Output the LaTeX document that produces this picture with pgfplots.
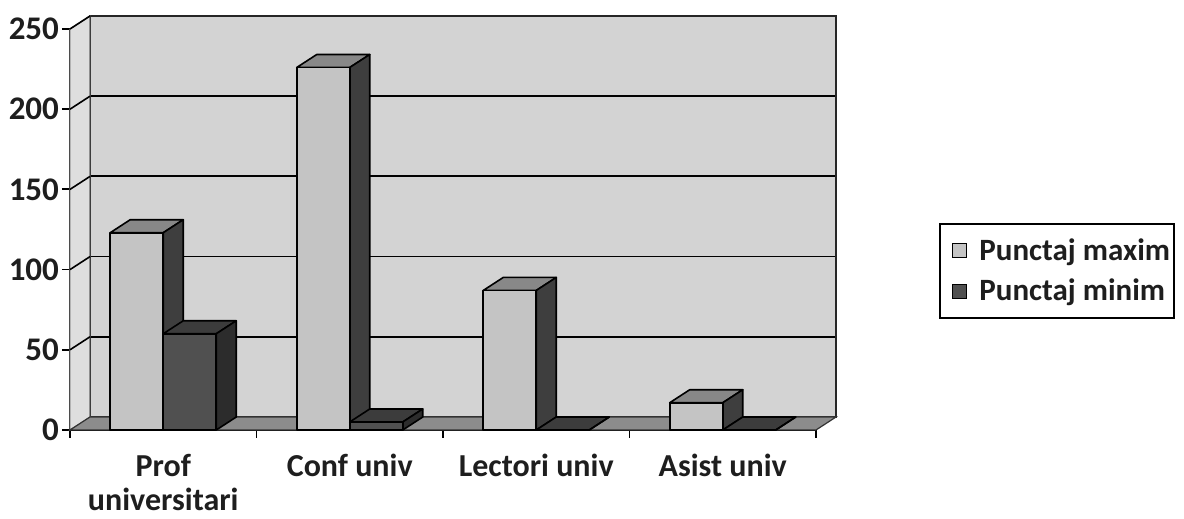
\documentclass[border=0pt]{standalone}
\usepackage{fontspec}
\setmainfont{Carlito}
\usepackage{pgfplots}
\usepackage{pgfplotstable}
\pgfplotsset{compat=1.18}

\definecolor{wallc}{HTML}{D3D3D3}
\definecolor{sidewall}{HTML}{DEDEDE}
\definecolor{floorc}{HTML}{8C8C8C}
\definecolor{maxfront}{HTML}{C4C4C4}
\definecolor{maxtop}{HTML}{888888}
\definecolor{maxside}{HTML}{3E3E3E}
\definecolor{minfront}{HTML}{505050}
\definecolor{mintop}{HTML}{3C3C3C}
\definecolor{minside}{HTML}{2C2C2C}
\definecolor{txt}{HTML}{1E1E1E}

\newcommand\ylfont{\fontsize{16.5}{19}\selectfont\bfseries}
\newcommand\xlfont{\fontsize{16}{17}\selectfont\bfseries}
\newcommand\lgfont{\fontsize{15.5}{18}\selectfont\bfseries}

% data: front positions of the categories 0..3
\pgfplotstableread{
x vmax vmin
0 123 60
1 226 5
2 87 0
3 17 0
}\datatable

% one 3d bar drawn as a mark; \barh is the value of the point
\newdimen\barhd
\newdimen\barhb
\def\barh{0}
\newcommand\barbox[7]{%
  \pgfmathsetlength\barhd{0.802pt*(\barh)}%
  \barhb=6.5pt
  \advance\barhb by -\barhd
  \pgfsetlinewidth{0.8pt}%
  \pgfsetstrokecolor{black}%
  \pgfsetroundjoin
  % top
  \pgfsetfillcolor{#6}%
  \pgfpathmoveto{\pgfqpoint{#1}{0pt}}%
  \pgfpathlineto{\pgfqpoint{#2}{0pt}}%
  \pgfpathlineto{\pgfqpoint{#4}{6.5pt}}%
  \pgfpathlineto{\pgfqpoint{#3}{6.5pt}}%
  \pgfpathclose
  \pgfusepath{fill,stroke}%
  % side
  \pgfsetfillcolor{#7}%
  \pgfpathmoveto{\pgfqpoint{#2}{0pt}}%
  \pgfpathlineto{\pgfqpoint{#4}{6.5pt}}%
  \pgfpathlineto{\pgfqpoint{#4}{\barhb}}%
  \pgfpathlineto{\pgfqpoint{#2}{-\barhd}}%
  \pgfpathclose
  \pgfusepath{fill,stroke}%
  % front
  \pgfsetfillcolor{#5}%
  \pgfpathrectanglecorners{\pgfqpoint{#1}{-\barhd}}{\pgfqpoint{#2}{0pt}}%
  \pgfusepath{fill,stroke}%
}
\pgfdeclareplotmark{barmax}{\barbox{-26.5pt}{0pt}{-16.5pt}{10pt}{maxfront}{maxtop}{maxside}}
\pgfdeclareplotmark{barmin}{\barbox{0pt}{26.5pt}{10pt}{36.5pt}{minfront}{mintop}{minside}}

\pgfplotsset{
  base3d/.style={
    x=93.25pt, y=0.802pt,
    xmin=-0.5, xmax=3.5, ymin=0, ymax=250,
    clip=false, anchor=south west,
  },
  sqlegend/.style={
    legend image code/.code={\path (0pt,0pt); \draw[##1] (6pt,-3.6pt) rectangle (13.2pt,3.6pt);}
  },
}

\begin{document}
\begin{tikzpicture}
% back wall
\begin{axis}[base3d, at={(10pt,6.5pt)},
  axis background/.style={fill=wallc},
  axis line style={draw=black!85, line width=0.8pt},
  ymajorgrids, grid style={black, line width=0.9pt},
  xtick=\empty, ytick={50,100,150,200},
  yticklabels={}, major tick length=0pt,
]
\end{axis}
% front: walls, floor, bars, ticks
\begin{axis}[base3d, at={(0pt,0pt)},
  axis x line*=bottom, axis y line*=left,
  axis line style={black, line width=0.9pt},
  ytick={0,50,...,250},
  yticklabel style={font=\ylfont, color=txt, xshift=2pt},
  xtick={-0.5,0.5,1.5,2.5,3.5},
  xticklabels={,,,,},
  extra x ticks={0,1,2,3},
  extra x tick labels={Prof\\universitari, Conf univ, Lectori univ, Asist univ},
  extra x tick style={major tick length=0pt,
    xticklabel style={align=center, font=\xlfont, color=txt, inner ysep=0pt, yshift=-12pt}},
  tick align=outside, major tick length=4pt,
  tick style={black, line width=0.9pt},
  /pgf/number format/assume math mode=true,
  legend style={at={(1.4812,0.3965)}, anchor=east, draw=black, line width=0.8pt,
    font=\lgfont, text=txt, inner xsep=0pt, inner ysep=5pt, row sep=4pt,
    column sep=4pt},
  legend cell align=left,
]
\fill[sidewall, draw=black!60, line width=0.5pt] (axis cs:-0.5,0) -- (axis cs:-0.5,250)
  -- ([shift={(10pt,6.5pt)}]axis cs:-0.5,250) -- ([shift={(10pt,6.5pt)}]axis cs:-0.5,0) -- cycle;
\pgfplotsinvokeforeach{50,100,150,200,250}{
  \draw[black, line width=0.8pt] (axis cs:-0.5,#1) -- ([shift={(10pt,6.5pt)}]axis cs:-0.5,#1);
}
\filldraw[fill=floorc, draw=black!80, line width=0.6pt] (axis cs:-0.5,0) -- (axis cs:3.5,0)
  -- ([shift={(10pt,6.5pt)}]axis cs:3.5,0) -- ([shift={(10pt,6.5pt)}]axis cs:-0.5,0) -- cycle;

\addplot[scatter, only marks, mark=barmax, forget plot,
  visualization depends on={\thisrow{vmax} \as \barh}]
  table[x=x, y=vmax] {\datatable};
\addplot[scatter, only marks, mark=barmin, forget plot,
  visualization depends on={\thisrow{vmin} \as \barh}]
  table[x=x, y=vmin] {\datatable};

\addlegendimage{sqlegend, fill=maxfront, draw=black, line width=0.6pt}
\addlegendentry{Punctaj maxim}
\addlegendimage{sqlegend, fill=minfront, draw=black, line width=0.6pt}
\addlegendentry{Punctaj minim}
\end{axis}
\pgfresetboundingbox
\path[use as bounding box] (-35pt,-44.5pt) rectangle (557pt,215pt);
\end{tikzpicture}
\end{document}
